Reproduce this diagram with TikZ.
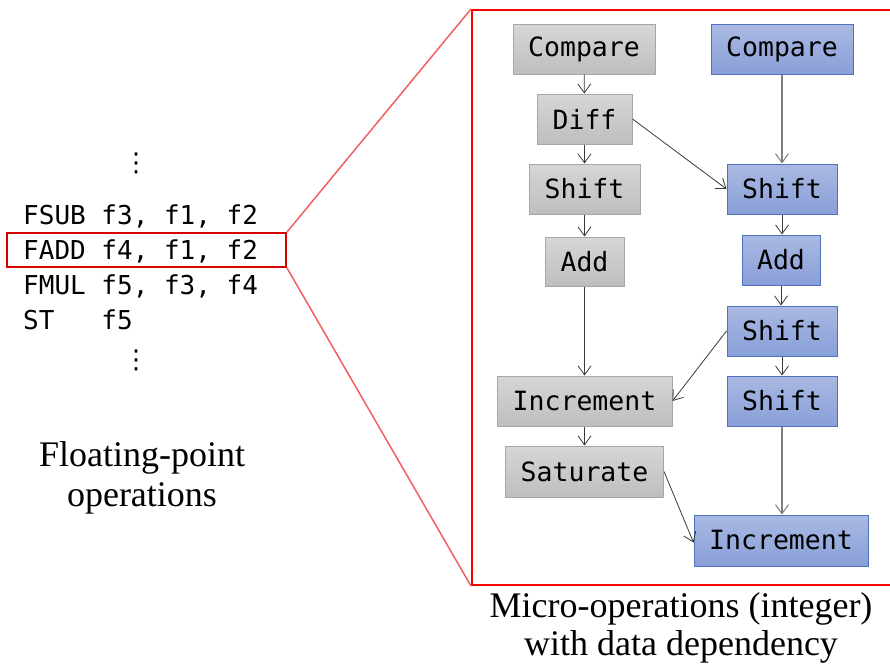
\documentclass[tikz,border=0pt]{standalone}
\usepackage{fontspec}
\setmainfont{Liberation Serif}
\setmonofont{DejaVu Sans Mono}
\newfontfamily\symfont{DejaVu Sans}
\usetikzlibrary{arrows.meta}
\definecolor{gbord}{HTML}{A6A6A6}
\definecolor{gtop}{HTML}{D6D6D6}
\definecolor{gbot}{HTML}{BEBEBE}
\definecolor{bbord}{HTML}{4F72C0}
\definecolor{btop}{HTML}{AAB9E2}
\definecolor{bbot}{HTML}{889FD8}
\definecolor{redline}{HTML}{FF0000}
\definecolor{redthin}{HTML}{F06060}
\definecolor{arr}{HTML}{3A3A3A}
\definecolor{arrg}{HTML}{7F7F7F}
\tikzset{
  opbox/.style={inner sep=0pt, font=\ttfamily\fontsize{26.5}{30}\selectfont, line width=1pt},
  gop/.style={opbox, draw=gbord, top color=gtop, bottom color=gbot},
  bop/.style={opbox, draw=bbord, top color=btop, bottom color=bbot},
  depline/.style={draw=arr, line width=0.8pt, -{Straight Barb[length=9pt,width=13pt,line width=0.8pt]}},
  deplineg/.style={draw=arrg, line width=1.5pt, -{Straight Barb[length=9pt,width=13pt,line width=1pt]}},
  codeline/.style={anchor=base west, inner sep=0pt, font=\ttfamily\fontsize{26}{30}\selectfont},
  dotsv/.style={inner sep=0pt, font=\symfont\fontsize{26}{30}\selectfont},
  captxt/.style={align=center, inner sep=0pt, font=\fontsize{36}{40}\selectfont}
}
\begin{document}
\begin{tikzpicture}[x=1pt,y=-1pt]
\useasboundingbox (0,0) rectangle (890,669);
% left code
\node[dotsv] (dt) at (136,163) {⋮};
\node[codeline] (l1) at (23,224) {FSUB f3, f1, f2};
\node[codeline] (l2) at (23,259) {FADD f4, f1, f2};
\node[codeline] (l3) at (23,294) {FMUL f5, f3, f4};
\node[codeline] (l4) at (23,329) {ST\ \ \ f5};
\node[dotsv] (db) at (136,360) {⋮};
\node[draw=redline!85!black, line width=2pt, minimum width=279pt, minimum height=34pt, inner sep=0pt] (hl) at (146.5,250) {};
\node[draw=redline, line width=2pt, minimum width=419pt, minimum height=575pt, inner sep=0pt] (rb) at (681.5,297.5) {};
\draw[redthin, line width=1.5pt] (hl.north east) -- (rb.north west);
\draw[redthin, line width=1.5pt] (hl.south east) -- (rb.south west);
% captions
\node[captxt, anchor=base] (c1) at (142,466) {Floating-point};
\node[captxt, anchor=base] (c1b) at (142,506) {operations};
\node[captxt, anchor=base] (c2) at (681,617) {Micro-operations (integer)};
\node[captxt, anchor=base] (c2b) at (681,655) {with data dependency};
% gray column
\node[gop, minimum width=142pt, minimum height=49pt] (gc) at (584,49.5) {Compare};
\node[gop, minimum width=95pt, minimum height=50pt] (gd) at (584.5,119) {Diff};
\node[gop, minimum width=111pt, minimum height=50pt] (gs) at (584.5,189) {Shift};
\node[gop, minimum width=79pt, minimum height=49pt] (ga) at (584.5,261.5) {Add};
\node[gop, minimum width=175pt, minimum height=50pt] (gi) at (584.5,401) {Increment};
\node[gop, minimum width=158pt, minimum height=51pt] (gsat) at (584.5,471.5) {Saturate};
% blue column
\node[bop, minimum width=142pt, minimum height=49pt] (bc) at (782,49.5) {Compare};
\node[bop, minimum width=110pt, minimum height=50pt] (bs) at (782,189) {Shift};
\node[bop, minimum width=78pt, minimum height=50pt] (ba) at (781,260) {Add};
\node[bop, minimum width=110pt, minimum height=50pt] (bs2) at (782,331) {Shift};
\node[bop, minimum width=110pt, minimum height=50pt] (bs3) at (782,401) {Shift};
\node[bop, minimum width=174pt, minimum height=51pt] (bi) at (781,540.5) {Increment};
% edges
\draw[depline] (gc) -- (gd);
\draw[depline] (gd) -- (gs);
\draw[depline] (gs) -- (ga);
\draw[depline] (ga) -- (gi);
\draw[depline] (gi) -- (gsat);
\draw[deplineg] (bc) -- (bs);
\draw[depline] (bs) -- (bs.south |- ba.north);
\draw[depline] (ba.south) -- (ba.south |- bs2.north);
\draw[depline] (bs2) -- (bs3);
\draw[deplineg] (bs3) -- (bs3.south |- bi.north);
\draw[depline] (gd.east) -- (bs.west);
\draw[depline] (bs2.west) -- (gi.east);
\draw[depline] (gsat.east) -- ([yshift=-2pt]bi.west);
\end{tikzpicture}
\end{document}
